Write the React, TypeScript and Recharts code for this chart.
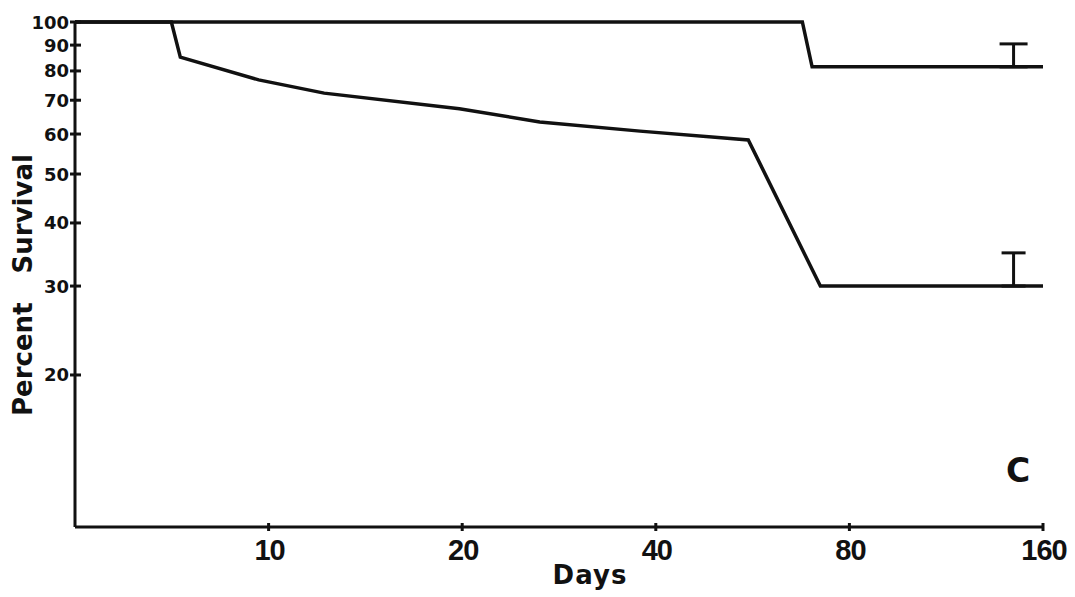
import { LineChart, Line, XAxis, YAxis, ErrorBar } from "recharts";

// days (log2 axis) and percent survival (log axis)
const upperDays = [5, 67.6, 70, 144, 160];
const upperSurvival = [100, 100, 81.5, 81.5, 81.5];
const upperError = [null, null, null, 9, null];

const lowerDays = [5, 7.06, 7.29, 9.65, 12.2, 19.8, 26.4, 37.8, 55.7, 72.1, 144, 160];
const lowerSurvival = [100, 100, 85.2, 76.8, 72.3, 67.3, 63.4, 60.8, 58.4, 30, 30, 30];
const lowerError = [null, null, null, null, null, null, null, null, null, null, 4.9, null];

const xTicks = [10, 20, 40, 80, 160];
const yTicks = [20, 30, 40, 50, 60, 70, 80, 90, 100];

const upperData = upperDays.map((d, i) => ({
  day: d,
  pct: upperSurvival[i],
  err: upperError[i] == null ? undefined : [0, upperError[i]],
}));
const lowerData = lowerDays.map((d, i) => ({
  day: d,
  pct: lowerSurvival[i],
  err: lowerError[i] == null ? undefined : [0, lowerError[i]],
}));

const INK = "#111";

const YTick = ({ x, y, payload }: any) => (
  <g>
    <line x1={x - 5} x2={x + 6} y1={y} y2={y} stroke={INK} strokeWidth={3} />
    <text
      x={x - 6}
      y={y + 6.5}
      textAnchor="end"
      fill={INK}
      style={{ fontFamily: "DejaVu Sans", fontWeight: 700, fontSize: 18 }}
    >
      {payload.value}
    </text>
  </g>
);

const XTick = ({ x, y, payload }: any) => (
  <g>
    <line x1={x} x2={x} y1={y - 4} y2={y + 4} stroke={INK} strokeWidth={3} />
    <text
      x={x + 1}
      y={y + 33}
      textAnchor="middle"
      fill={INK}
      style={{ fontFamily: "Liberation Sans", fontWeight: 700, fontSize: 29, letterSpacing: -1 }}
    >
      {payload.value}
    </text>
  </g>
);

export default function App() {
  return (
    <div style={{ position: "relative", width: 1075, height: 597, background: "#fff", fontFamily: "DejaVu Sans" }}>
      <style>{"body{margin:0}"}</style>
      <LineChart width={1075} height={597} margin={{ top: 22, right: 32, left: 0, bottom: 0 }}>
        <XAxis
          type="number"
          dataKey="day"
          scale="log"
          domain={[5, 160]}
          ticks={xTicks}
          height={70}
          tickSize={0}
          tickMargin={0}
          tick={<XTick />}
          axisLine={{ stroke: INK, strokeWidth: 3 }}
          tickLine={false}
        />
        <YAxis
          type="number"
          dataKey="pct"
          scale="log"
          domain={[10, 100]}
          ticks={yTicks}
          width={75}
          tickSize={0}
          tickMargin={0}
          tick={<YTick />}
          axisLine={{ stroke: INK, strokeWidth: 3 }}
          tickLine={false}
        />
        <Line
          data={upperData}
          dataKey="pct"
          type="linear"
          stroke={INK}
          strokeWidth={3.5}
          dot={false}
          isAnimationActive={false}
        >
          <ErrorBar dataKey="err" direction="y" width={14} stroke={INK} strokeWidth={3} />
        </Line>
        <Line
          data={lowerData}
          dataKey="pct"
          type="linear"
          stroke={INK}
          strokeWidth={3.5}
          dot={false}
          isAnimationActive={false}
        >
          <ErrorBar dataKey="err" direction="y" width={12} stroke={INK} strokeWidth={3} />
        </Line>
      </LineChart>
      {/* axis titles and panel letter */}
      <div
        style={{
          position: "absolute",
          left: 23,
          top: 285,
          transform: "translate(-50%, -50%) rotate(-90deg)",
          whiteSpace: "nowrap",
          fontWeight: 700,
          fontSize: 26,
          wordSpacing: 20,
          color: INK,
        }}
      >
        Percent Survival
      </div>
      <div
        style={{
          position: "absolute",
          left: 590,
          top: 575,
          transform: "translate(-50%, -50%)",
          fontWeight: 700,
          fontSize: 26,
          letterSpacing: 1,
          color: INK,
        }}
      >
        Days
      </div>
      <div
        style={{
          position: "absolute",
          left: 1018,
          top: 470,
          transform: "translate(-50%, -50%)",
          fontWeight: 700,
          fontSize: 33,
          color: INK,
        }}
      >
        C
      </div>
    </div>
  );
}
